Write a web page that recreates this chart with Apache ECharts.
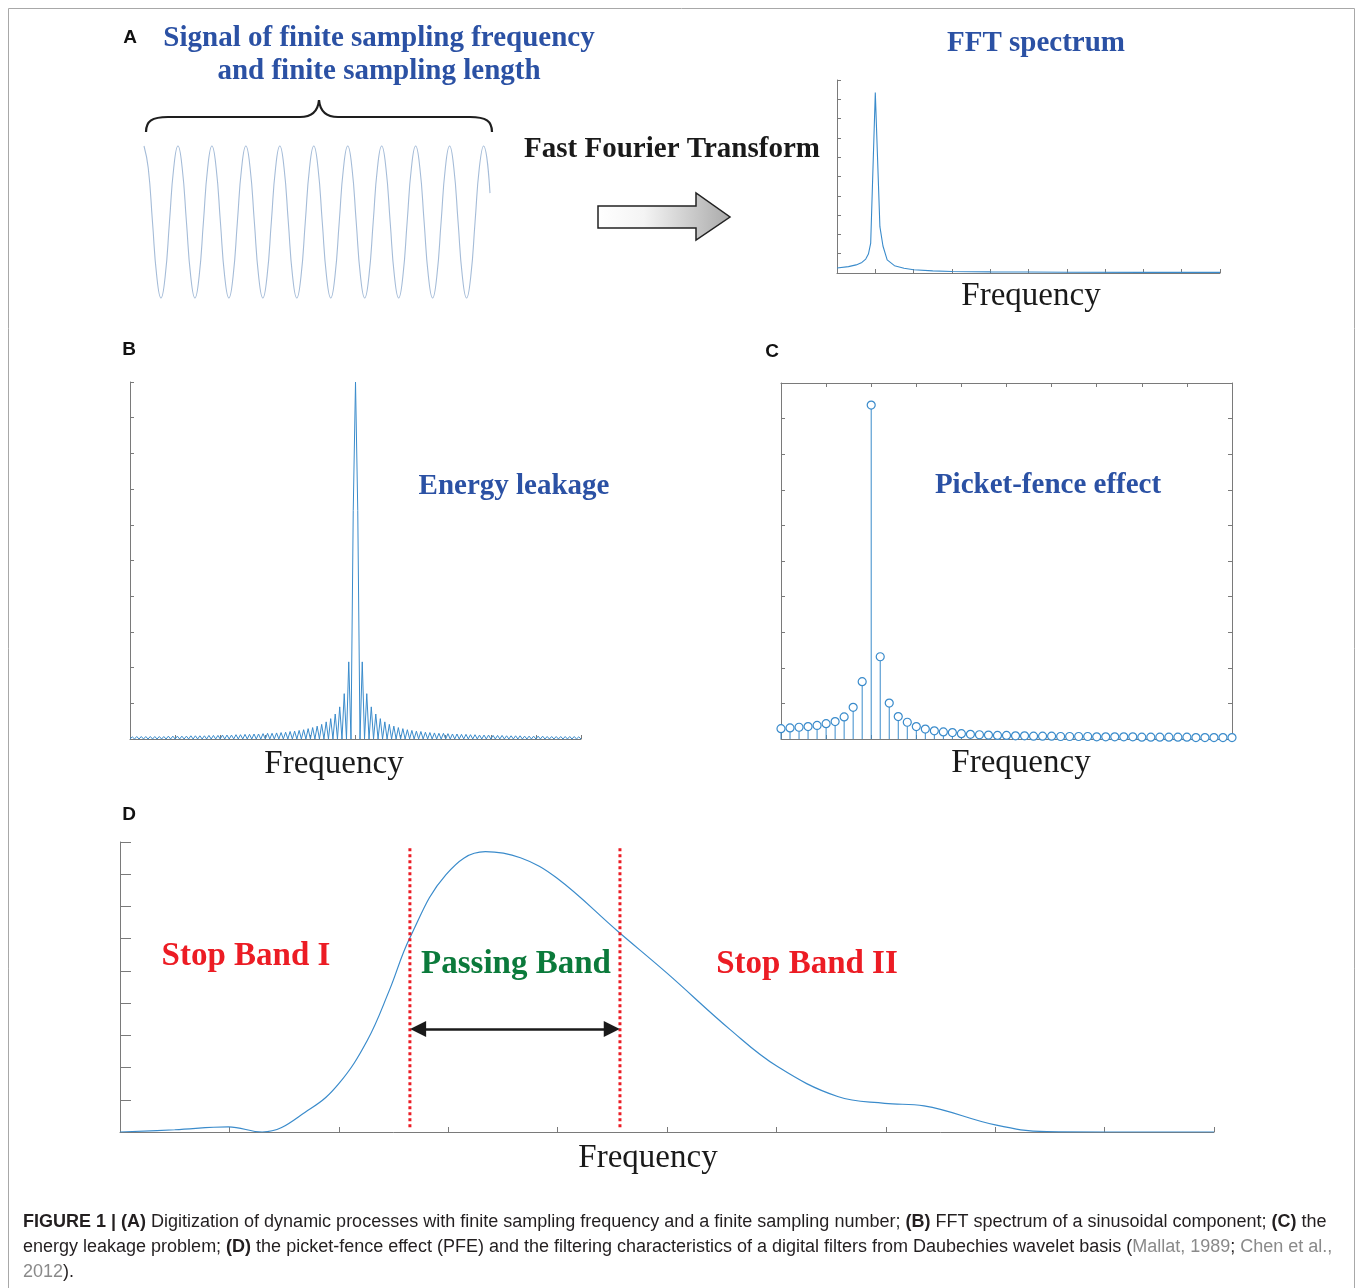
<!DOCTYPE html>
<html>
<head>
<meta charset="utf-8">
<title>Figure 1</title>
<script src="https://cdn.jsdelivr.net/npm/echarts/dist/echarts.min.js"></script>
<style>
html, body { margin: 0; padding: 0; background: #fff; }
#chart { width: 1359px; height: 1288px; }
</style>
</head>
<body>
<div id="chart"></div>
<script>
//-----------------------------------------------------------------------------/
// data
//-----------------------------------------------------------------------------/
// A: sampled sinusoid, time in periods (8 readings per period)
var sigTime = [
	0,0.125,0.25,0.375,0.5,0.625,0.75,0.875,
	1,1.125,1.25,1.375,1.5,1.625,1.75,1.875,
	2,2.125,2.25,2.375,2.5,2.625,2.75,2.875,
	3,3.125,3.25,3.375,3.5,3.625,3.75,3.875,
	4,4.125,4.25,4.375,4.5,4.625,4.75,4.875,
	5,5.125,5.25,5.375,5.5,5.625,5.75,5.875,
	6,6.125,6.25,6.375,6.5,6.625,6.75,6.875,
	7,7.125,7.25,7.375,7.5,7.625,7.75,7.875,
	8,8.125,8.25,8.375,8.5,8.625,8.75,8.875,
	9,9.125,9.25,9.375,9.5,9.625,9.75,9.875,
	10,10.19];
var sigAmp = [
	1,0.71,0,-0.71,-1,-0.71,0,0.71,
	1,0.71,0,-0.71,-1,-0.71,0,0.71,
	1,0.71,0,-0.71,-1,-0.71,0,0.71,
	1,0.71,0,-0.71,-1,-0.71,0,0.71,
	1,0.71,0,-0.71,-1,-0.71,0,0.71,
	1,0.71,0,-0.71,-1,-0.71,0,0.71,
	1,0.71,0,-0.71,-1,-0.71,0,0.71,
	1,0.71,0,-0.71,-1,-0.71,0,0.71,
	1,0.71,0,-0.71,-1,-0.71,0,0.71,
	1,0.71,0,-0.71,-1,-0.71,0,0.71,
	1,0.38];
// A: FFT spectrum
var fftFreq = [0, 0.3, 0.5, 0.65, 0.75, 0.82, 0.88, 1.0, 1.12, 1.2, 1.31, 1.5, 1.75, 2.0, 2.5, 3, 4, 5, 6, 8, 10];
var fftAmp = [0.26, 0.33, 0.42, 0.55, 0.72, 0.98, 1.55, 9.35, 2.4, 1.4, 0.68, 0.38, 0.25, 0.17, 0.11, 0.08, 0.06, 0.05, 0.04, 0.03, 0.03];
// B: energy leakage, main lobe + side lobe peaks (one side, from centre outwards)
var leakCenter = 5;
var leakBin = 0.1;
var leakMain = [6.4, 10, 6.4];
var leakSide = [2.16, 1.27, 0.90, 0.70, 0.57, 0.48, 0.41, 0.36, 0.32, 0.29,
	0.26, 0.24, 0.22, 0.21, 0.19, 0.18, 0.17, 0.16, 0.16, 0.15,
	0.14, 0.14, 0.13, 0.13, 0.12, 0.12, 0.11, 0.11, 0.11, 0.10,
	0.10, 0.10, 0.09, 0.09, 0.09, 0.09, 0.08, 0.08, 0.08, 0.08,
	0.08, 0.07, 0.07, 0.07, 0.07, 0.07, 0.07, 0.07, 0.06];
// C: picket-fence stems
var fenceBin = 0.2;
var fenceAmp = [0.29, 0.31, 0.33, 0.35, 0.38, 0.43, 0.49, 0.62, 0.89, 1.61,
	9.38, 2.31, 1.01, 0.63, 0.47, 0.35, 0.28, 0.23, 0.20, 0.18,
	0.15, 0.13, 0.12, 0.11, 0.10, 0.10, 0.09, 0.09, 0.08, 0.08,
	0.08, 0.07, 0.07, 0.07, 0.07, 0.06, 0.06, 0.06, 0.06, 0.06,
	0.05, 0.05, 0.05, 0.05, 0.05, 0.05, 0.04, 0.04, 0.04, 0.04, 0.04];
// D: wavelet filter response
var filterFreq = [0, 0.5, 0.99, 1.3, 1.74, 2.0, 2.26, 2.46, 2.65, 2.98, 3.34, 3.66, 3.99, 4.55, 5.0, 5.58, 6.01, 6.56, 6.99, 7.35, 8.0, 8.47, 9.0, 10];
var filterAmp = [0, 0.07, 0.16, 0, 0.72, 1.5, 2.84, 4.38, 6.03, 7.99, 8.70, 8.51, 7.89, 6.23, 4.93, 3.17, 2.03, 1.10, 0.89, 0.81, 0.22, 0.01, 0, 0];
var bandEdges = [2.65, 4.57];
var bandTop = 8.82;
var bandArrowLevel = 3.2;

//-----------------------------------------------------------------------------/
// styles
//-----------------------------------------------------------------------------/
var axisGray = '#7a7a7a';
var lineBlue = '#3a8bcb';
var titleBlue = '#2b51a4';
var bandRed = '#ec1c24';
var bandGreen = '#0b7a3b';
var serif = '"Liberation Serif", "Times New Roman", serif';
var sans = '"Liberation Sans", Arial, sans-serif';

function pairs(xs, ys) {
	var out = [];
	for (var i = 0; i < xs.length; i++) {
		out.push([xs[i], ys[i]]);
	}
	return out;
}
function leakData() {
	var pts = [];
	var n = leakSide.length;
	pts.push([leakCenter - (n + 1) * leakBin, 0]);
	for (var k = n; k >= 1; k--) {
		pts.push([leakCenter - (k + 0.5) * leakBin, leakSide[k - 1]]);
		pts.push([leakCenter - k * leakBin, 0]);
	}
	pts.push([leakCenter - 0.5 * leakBin, leakMain[0]]);
	pts.push([leakCenter, leakMain[1]]);
	pts.push([leakCenter + 0.5 * leakBin, leakMain[2]]);
	pts.push([leakCenter + leakBin, 0]);
	for (var j = 1; j <= n; j++) {
		pts.push([leakCenter + (j + 0.5) * leakBin, leakSide[j - 1]]);
		pts.push([leakCenter + (j + 1) * leakBin, 0]);
	}
	return pts;
}
function fenceData() {
	var pts = [];
	for (var i = 0; i < fenceAmp.length; i++) {
		pts.push([i * fenceBin, fenceAmp[i]]);
	}
	return pts;
}
// matlab style axis: line + inward ticks, no labels
function frameAxis(grid, pos, max, tickLen) {
	return {
		type : 'value',
		gridIndex : grid,
		position : pos,
		min : 0,
		max : max,
		interval : 1,
		axisLine : { show : true, onZero : false, lineStyle : { color : axisGray, width : 1 } },
		axisTick : { show : true, inside : true, length : tickLen, lineStyle : { color : axisGray, width : 1 } },
		axisLabel : { show : false },
		splitLine : { show : false }
	};
}
function label(x, y, text, font, color, align) {
	return {
		type : 'text',
		x : x,
		y : y,
		style : {
			text : text,
			font : font,
			fill : color,
			textAlign : align || 'center',
			textVerticalAlign : 'middle',
			verticalAlign : 'middle'
		}
	};
}
function caption(y, text) {
	return {
		type : 'text',
		x : 23,
		y : y,
		style : {
			text : text,
			fontFamily : sans,
			fontSize : 18,
			fill : '#231f20',
			textAlign : 'left',
			textVerticalAlign : 'middle',
			verticalAlign : 'middle',
			rich : {
				b : { fontFamily : sans, fontSize : 18, fontWeight : 'bold', fill : '#231f20' },
				g : { fontFamily : sans, fontSize : 18, fill : '#8a8a8a' }
			}
		}
	};
}
function braceCurve(x1, y1, c1x, c1y, c2x, c2y, x2, y2) {
	return {
		type : 'bezierCurve',
		shape : { x1 : x1, y1 : y1, cpx1 : c1x, cpy1 : c1y, cpx2 : c2x, cpy2 : c2y, x2 : x2, y2 : y2 },
		style : { fill : null, stroke : '#1e1e1e', lineWidth : 2.2 }
	};
}
function braceLine(x1, y1, x2, y2) {
	return {
		type : 'line',
		shape : { x1 : x1, y1 : y1, x2 : x2, y2 : y2 },
		style : { stroke : '#1e1e1e', lineWidth : 2.2 }
	};
}

//-----------------------------------------------------------------------------/
// chart
//-----------------------------------------------------------------------------/
var myChart = echarts.init(document.getElementById('chart'), null, { renderer : 'canvas' });

var option = {
	animation : false,
	backgroundColor : '#ffffff',
	grid : [
		{ left : 144, top : 146, width : 346, height : 152 },
		{ left : 837, top : 80, width : 383, height : 193 },
		{ left : 130, top : 382, width : 451, height : 357 },
		{ left : 781, top : 383, width : 451, height : 356 },
		{ left : 120, top : 842, width : 1094, height : 290 }
	],
	xAxis : [
		{ type : 'value', gridIndex : 0, min : 0, max : 10.19, show : false },
		frameAxis(1, 'bottom', 10, 4),
		frameAxis(2, 'bottom', 10, 4),
		frameAxis(3, 'bottom', 10, 4),
		frameAxis(3, 'top', 10, 4),
		frameAxis(4, 'bottom', 10, 5)
	],
	yAxis : [
		{ type : 'value', gridIndex : 0, min : -1, max : 1, show : false },
		frameAxis(1, 'left', 10, 4),
		frameAxis(2, 'left', 10, 4),
		frameAxis(3, 'left', 10, 4),
		frameAxis(3, 'right', 10, 4),
		frameAxis(4, 'left', 9, 11)
	],
	series : [ {
		name : 'signal',
		type : 'line',
		xAxisIndex : 0,
		yAxisIndex : 0,
		smooth : 0.5,
		showSymbol : false,
		clip : false,
		lineStyle : { color : '#a5bcd8', width : 1.1 },
		data : pairs(sigTime, sigAmp)
	}, {
		name : 'fft',
		type : 'line',
		xAxisIndex : 1,
		yAxisIndex : 1,
		showSymbol : false,
		lineStyle : { color : lineBlue, width : 1.1 },
		data : pairs(fftFreq, fftAmp)
	}, {
		name : 'leakage',
		type : 'line',
		xAxisIndex : 2,
		yAxisIndex : 2,
		showSymbol : false,
		lineStyle : { color : lineBlue, width : 1 },
		data : leakData()
	}, {
		name : 'stems',
		type : 'bar',
		xAxisIndex : 3,
		yAxisIndex : 3,
		barWidth : 1,
		itemStyle : { color : lineBlue },
		data : fenceData()
	}, {
		name : 'stemHeads',
		type : 'scatter',
		xAxisIndex : 3,
		yAxisIndex : 3,
		symbol : 'circle',
		symbolSize : 8,
		itemStyle : { color : '#ffffff', borderColor : lineBlue, borderWidth : 1.2, opacity : 1 },
		data : fenceData()
	}, {
		name : 'filter',
		type : 'line',
		xAxisIndex : 5,
		yAxisIndex : 5,
		smooth : 0.4,
		showSymbol : false,
		lineStyle : { color : lineBlue, width : 1.2 },
		data : pairs(filterFreq, filterAmp)
	}, {
		name : 'edgeLow',
		type : 'line',
		xAxisIndex : 5,
		yAxisIndex : 5,
		symbol : 'none',
		lineStyle : { color : bandRed, width : 3, type : [3, 3] },
		data : [ [bandEdges[0], 0.15], [bandEdges[0], bandTop] ],
		markLine : {
			silent : true,
			symbol : [ 'triangle', 'triangle' ],
			symbolSize : [ 16, 16 ],
			label : { show : false },
			lineStyle : { color : '#1a1a1a', width : 2.5, type : 'solid' },
			data : [ [ { coord : [ bandEdges[0] + 0.075, bandArrowLevel ] },
			           { coord : [ bandEdges[1] - 0.075, bandArrowLevel ] } ] ]
		}
	}, {
		name : 'edgeHigh',
		type : 'line',
		xAxisIndex : 5,
		yAxisIndex : 5,
		symbol : 'none',
		lineStyle : { color : bandRed, width : 3, type : [3, 3] },
		data : [ [bandEdges[1], 0.15], [bandEdges[1], bandTop] ]
	} ],
	graphic : [
		// outer frame
		{ type : 'rect', shape : { x : 8.5, y : 8.5, width : 1346, height : 1300 },
		  style : { fill : null, stroke : '#a8a8a8', lineWidth : 1 }, silent : true },
		// brace over the signal
		braceCurve(146, 132, 146, 121, 152, 117, 168, 117),
		braceLine(168, 117, 300, 117),
		braceCurve(300, 117, 312, 117, 318, 111, 319, 100),
		braceCurve(319, 100, 320, 111, 326, 117, 338, 117),
		braceLine(338, 117, 470, 117),
		braceCurve(470, 117, 486, 117, 492, 121, 492, 132),
		// block arrow
		{ type : 'polygon',
		  shape : { points : [ [598, 206], [696, 206], [696, 193], [730, 217], [696, 240], [696, 228], [598, 228] ] },
		  style : {
			fill : new echarts.graphic.LinearGradient(0, 0, 1, 0, [ { offset : 0, color : '#ffffff' }, { offset : 0.35, color : '#f4f4f4' }, { offset : 1, color : '#a9a9a9' } ]),
			stroke : '#222', lineWidth : 1.5 } },
		label(130, 38, 'A', 'bold 19px ' + sans, '#111'),
		label(379, 39, 'Signal of finite sampling frequency', 'bold 29px ' + serif, titleBlue),
		label(379, 72, 'and finite sampling length', 'bold 29px ' + serif, titleBlue),
		label(1036, 44, 'FFT spectrum', 'bold 29px ' + serif, titleBlue),
		label(672, 150, 'Fast Fourier Transform', 'bold 29px ' + serif, '#1a1a1a'),
		label(1031, 296, 'Frequency', '33px ' + serif, '#1a1a1a'),
		label(129, 350, 'B', 'bold 19px ' + sans, '#111'),
		label(772, 352, 'C', 'bold 19px ' + sans, '#111'),
		label(514, 487, 'Energy leakage', 'bold 29px ' + serif, titleBlue),
		label(1048, 486, 'Picket-fence effect', 'bold 29px ' + serif, titleBlue),
		label(334, 764, 'Frequency', '33px ' + serif, '#1a1a1a'),
		label(1021, 763, 'Frequency', '33px ' + serif, '#1a1a1a'),
		label(129, 815, 'D', 'bold 19px ' + sans, '#111'),
		label(246, 956, 'Stop Band I', 'bold 33px ' + serif, bandRed),
		label(516, 964, 'Passing Band', 'bold 33px ' + serif, bandGreen),
		label(807, 964, 'Stop Band II', 'bold 33px ' + serif, bandRed),
		label(648, 1158, 'Frequency', '33px ' + serif, '#1a1a1a'),
		caption(1222, '{b|FIGURE 1 | (A)} Digitization of dynamic processes with finite sampling frequency and a finite sampling number; {b|(B)} FFT spectrum of a sinusoidal component; {b|(C)} the'),
		caption(1247, 'energy leakage problem; {b|(D)} the picket-fence effect (PFE) and the filtering characteristics of a digital filters from Daubechies wavelet basis ({g|Mallat, 1989}; {g|Chen et al.,}'),
		caption(1272, '{g|2012}).')
	]
};
myChart.setOption(option);
</script>
</body>
</html>
